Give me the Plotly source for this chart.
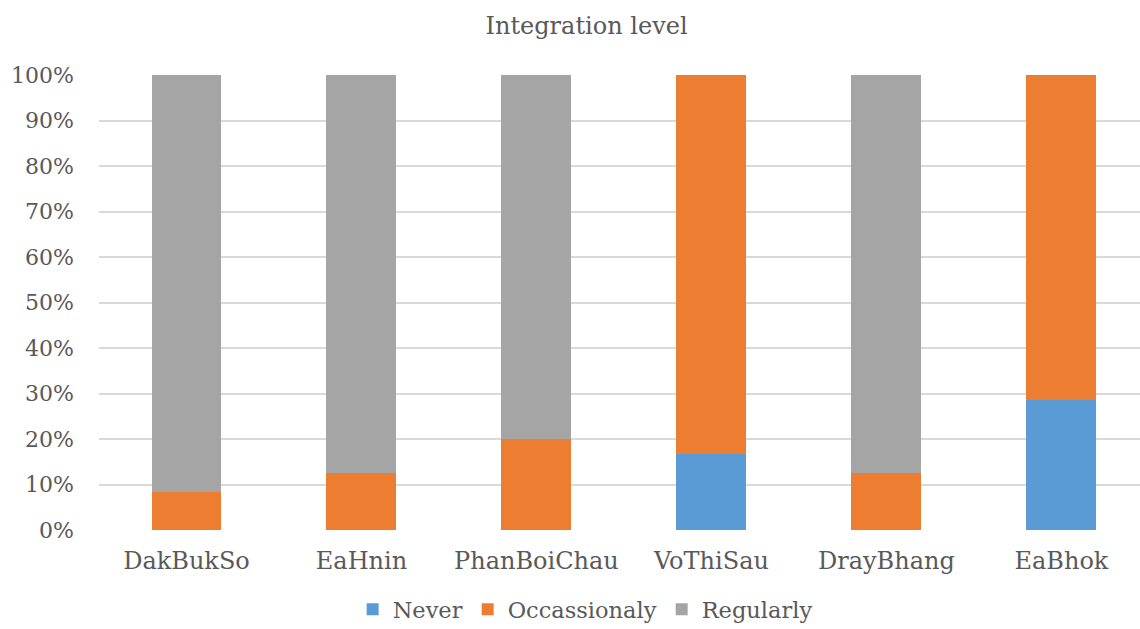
import plotly.graph_objects as go

categories = ["DakBukSo", "EaHnin", "PhanBoiChau", "VoThiSau", "DrayBhang", "EaBhok"]
never = [0.0, 0.0, 0.0, 0.167, 0.0, 0.286]
occasionaly = [0.083, 0.125, 0.20, 0.833, 0.125, 0.714]
regularly = [0.917, 0.875, 0.80, 0.0, 0.875, 0.0]
y_ticks = [i / 10 for i in range(11)]

FONT = "DejaVu Serif"
TEXT = "#595959"

fig = go.Figure()
for name, vals, color in [
    ("Never", never, "#5B9BD5"),
    ("Occassionaly", occasionaly, "#ED7D31"),
    ("Regularly", regularly, "#A5A5A5"),
]:
    fig.add_trace(go.Bar(
        x=categories, y=vals, name=name, width=0.4,
        marker=dict(color=color, line=dict(width=0)),
    ))

fig.update_layout(
    barmode="stack",
    width=1140, height=629,
    margin=dict(l=99, r=0, t=75, b=99, autoexpand=False),
    paper_bgcolor="white", plot_bgcolor="white",
    font=dict(family=FONT, color=TEXT, size=22),
    title=dict(text="Integration level", x=0.5145, xanchor="center",
               y=0.96, yanchor="middle", font=dict(size=24, color=TEXT, family=FONT)),
    xaxis=dict(range=[-0.5, 5.449], showgrid=False, showline=False, automargin=False,
               ticks="", tickfont=dict(size=24), zeroline=False, ticklabelstandoff=14),
    yaxis=dict(range=[0, 1], tickvals=y_ticks, tickformat=".0%", automargin=False,
               showgrid=True, gridcolor="#D9D9D9", gridwidth=1.5,
               zeroline=False, ticks="", ticklabelstandoff=24, tickfont=dict(size=22)),
    legend=dict(orientation="h", x=0.467, xanchor="center", y=-0.175, yanchor="middle",
                font=dict(size=22.5), traceorder="normal", itemwidth=30),
    showlegend=True,
)

fig.write_html("out.html")
